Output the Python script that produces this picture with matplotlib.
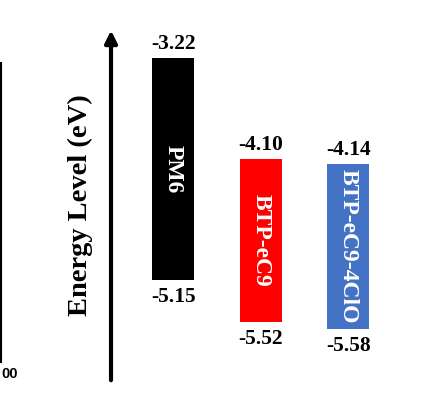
import matplotlib.pyplot as plt

# energy levels (eV)
materials = ["PM6", "BTP-eC9", "BTP-eC9-4ClO"]
lumo = [-3.22, -4.10, -4.14]
homo = [-5.15, -5.52, -5.58]
colors = ["#000000", "#ff0000", "#4472c4"]

fig = plt.figure(figsize=(4.26, 4.07), dpi=100)
ax = fig.add_axes([0, 0, 1, 1])
ax.set_xlim(-1.983, 2.886)
ax.set_ylim(-6.255, -2.716)
ax.axis("off")

serif = "Liberation Serif"

for i, (name, lo, hi) in enumerate(zip(materials, homo, lumo)):
    ax.bar(i, hi - lo, bottom=lo, width=0.48, color=colors[i])
    ax.annotate(f"{hi:.2f}", (i, hi), xytext=(0, 3), textcoords="offset points",
                ha="center", va="bottom", fontsize=15.5, fontweight="bold", family=serif)
    ax.annotate(f"{lo:.2f}", (i, lo), xytext=(0, -5), textcoords="offset points",
                ha="center", va="top", fontsize=15.5, fontweight="bold", family=serif)
    ax.text(i, (hi + lo) / 2, name, rotation=270, ha="center", va="center",
            color="white", fontsize=17, fontweight="bold", family=serif)

# energy axis arrow
ax.annotate("", xy=(0.2606, 0.932), xytext=(0.2606, 0.059),
            xycoords="axes fraction", textcoords="axes fraction",
            arrowprops=dict(arrowstyle="-|>", lw=3, color="black", mutation_scale=18))
ax.text(0.188, 0.496, "Energy Level (eV)", transform=ax.transAxes, rotation=90,
        ha="center", va="center", fontsize=20.5, fontweight="bold", family=serif)

# piece of the neighbouring panel
ax.plot([0.002, 0.002], [1 - 362 / 407, 1 - 63 / 407], transform=ax.transAxes,
        color="black", lw=1.5)
ax.text(0.004, 1 - 374 / 407, "00", transform=ax.transAxes, ha="left", va="center",
        fontsize=10.5, fontweight="bold", family="Liberation Sans")

fig.savefig("out.png", dpi=100)
